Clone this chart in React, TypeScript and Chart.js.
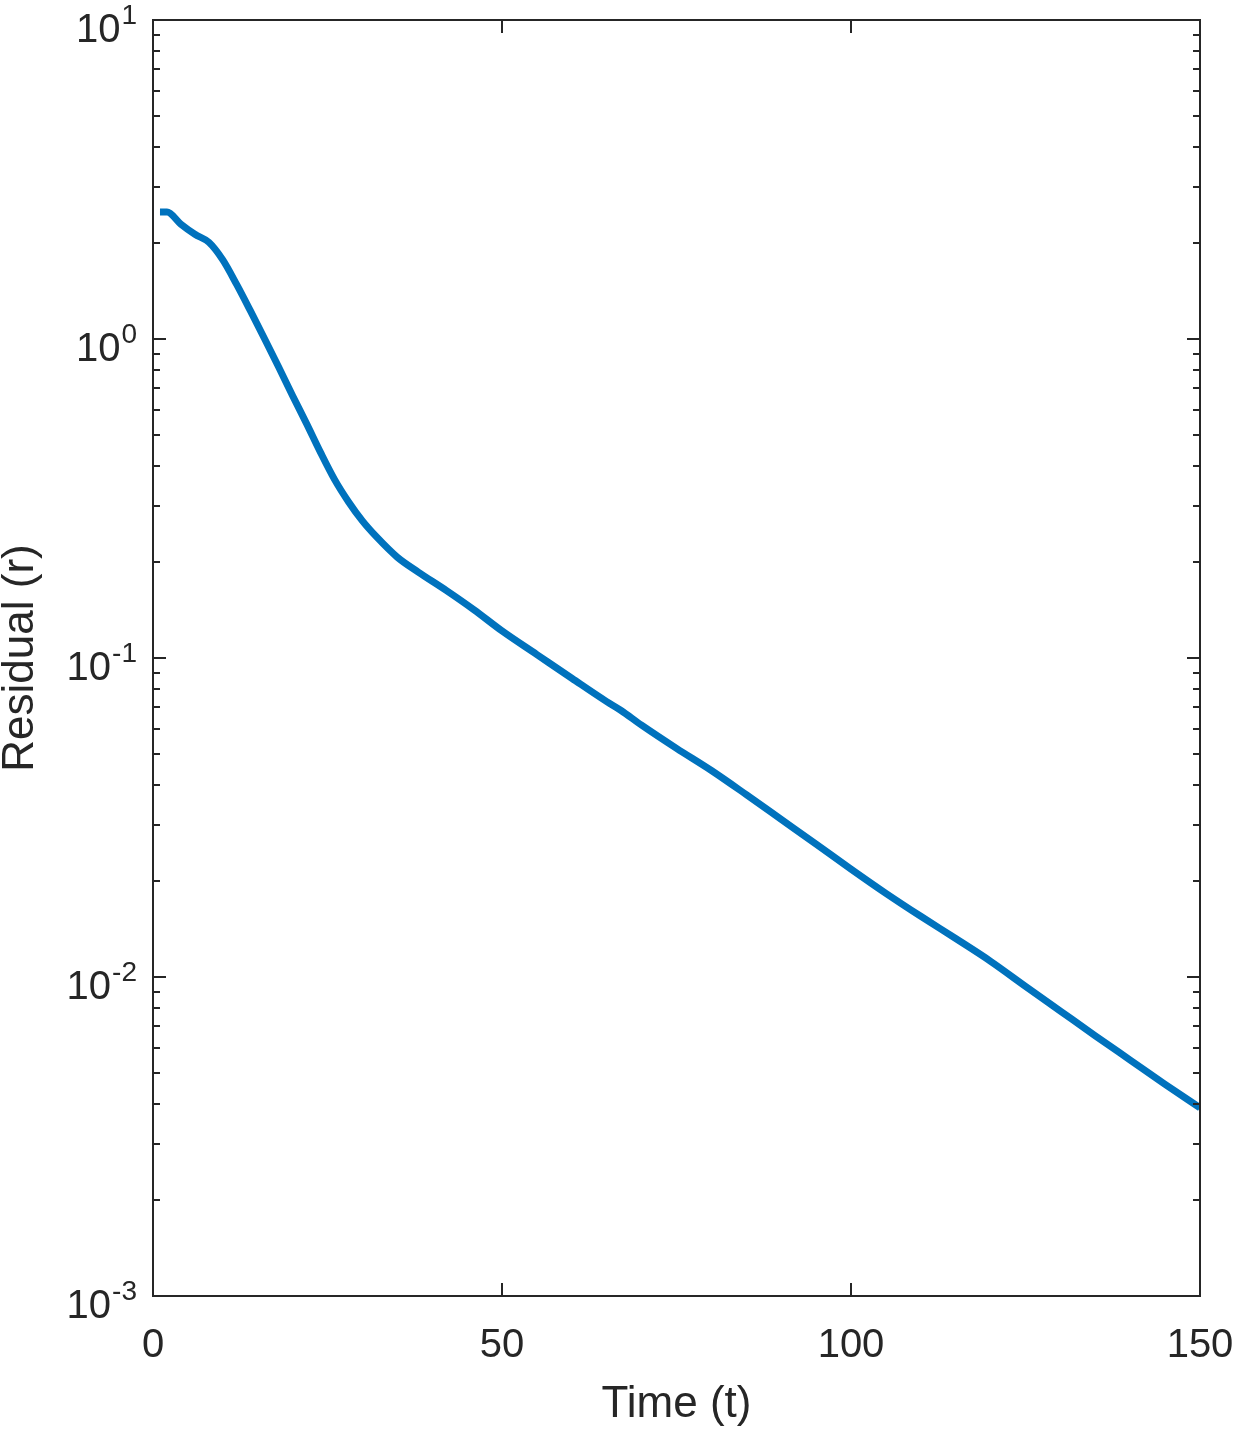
import React, { useEffect, useRef } from "react";
import { Chart, registerables } from "chart.js";

Chart.register(...registerables);

// ---- data ----
const timeValues = [1, 2, 4, 6, 8, 10, 12, 14, 16, 18, 20, 22, 24, 26, 28, 30, 32, 35, 38, 42, 46, 50, 55, 60, 65, 67, 70, 75, 80, 85, 90, 95, 100, 105, 110, 115, 120, 125, 130, 135, 140, 145, 150];
const residualValues = [2.5, 2.5, 2.29, 2.13, 2.01, 1.77, 1.48, 1.22, 1.0, 0.817, 0.664, 0.543, 0.441, 0.363, 0.309, 0.269, 0.24, 0.207, 0.186, 0.163, 0.1416, 0.1216, 0.1025, 0.0864, 0.0730, 0.0686, 0.0616, 0.0521, 0.0444, 0.0373, 0.0312, 0.0261, 0.0218, 0.0183, 0.0155, 0.0132, 0.0112, 0.00935, 0.00782, 0.00654, 0.00549, 0.00461, 0.00389];
const xTickValues = [0, 50, 100, 150];
const xTickLabels = ["0", "50", "100", "150"];
const yDecadeExponents = [-3, -2, -1, 0, 1];
const xAxisTitle = "Time (t)";
const yAxisTitle = "Residual (r)";

const W = 1238;
const H = 1430;
const AXIS_COLOR = "#262626";
const FONT = '"Liberation Sans", Arial, Helvetica, sans-serif';

const axesPlugin = {
  id: "matlabAxes",
  afterDatasetsDraw(chart: any) {
    const ctx = chart.ctx as CanvasRenderingContext2D;
    const { left, right, top, bottom } = chart.chartArea;
    const xs = chart.scales.x;
    const ys = chart.scales.y;
    ctx.save();
    ctx.strokeStyle = AXIS_COLOR;
    ctx.lineWidth = 2;
    // box
    ctx.strokeRect(left, top, right - left, bottom - top);

    const MAJ = 13;
    const MIN = 7;
    ctx.beginPath();
    // x ticks (top and bottom)
    for (const v of xTickValues) {
      const px = Math.round(xs.getPixelForValue(v));
      ctx.moveTo(px, bottom);
      ctx.lineTo(px, bottom - MAJ);
      ctx.moveTo(px, top);
      ctx.lineTo(px, top + MAJ);
    }
    // y ticks (left and right)
    for (const e of yDecadeExponents) {
      const py = Math.round(ys.getPixelForValue(Math.pow(10, e)));
      ctx.moveTo(left, py);
      ctx.lineTo(left + MAJ, py);
      ctx.moveTo(right, py);
      ctx.lineTo(right - MAJ, py);
      if (e < 1) {
        for (let m = 2; m <= 9; m++) {
          const pm = Math.round(ys.getPixelForValue(m * Math.pow(10, e)));
          ctx.moveTo(left, pm);
          ctx.lineTo(left + MIN, pm);
          ctx.moveTo(right, pm);
          ctx.lineTo(right - MIN, pm);
        }
      }
    }
    ctx.stroke();

    // x tick labels
    ctx.fillStyle = AXIS_COLOR;
    ctx.font = `40px ${FONT}`;
    ctx.textAlign = "center";
    ctx.textBaseline = "alphabetic";
    xTickValues.forEach((v, i) => {
      const px = xs.getPixelForValue(v);
      ctx.fillText(xTickLabels[i], px, bottom + 61);
    });

    // y tick labels 10^e
    ctx.textAlign = "left";
    for (const e of yDecadeExponents) {
      const py = ys.getPixelForValue(Math.pow(10, e));
      const base = "10";
      const sup = String(e);
      ctx.font = `40px ${FONT}`;
      const wb = ctx.measureText(base).width;
      ctx.font = `28px ${FONT}`;
      const ws = ctx.measureText(sup).width;
      const x0 = 136 - (wb + ws);
      ctx.font = `40px ${FONT}`;
      ctx.fillText(base, x0, py + 22);
      ctx.font = `28px ${FONT}`;
      ctx.fillText(sup, x0 + wb + 1, py + 4);
    }

    // axis titles
    ctx.font = `44px ${FONT}`;
    ctx.textAlign = "center";
    ctx.fillText(xAxisTitle, (left + right) / 2, 1417);
    ctx.save();
    ctx.translate(33, (top + bottom) / 2);
    ctx.rotate(-Math.PI / 2);
    ctx.fillText(yAxisTitle, 0, 0);
    ctx.restore();

    ctx.restore();
  },
};

export default function App() {
  const canvasRef = useRef<HTMLCanvasElement | null>(null);

  useEffect(() => {
    document.body.style.margin = "0";
    const canvas = canvasRef.current;
    if (!canvas) return;
    const chart = new Chart(canvas, {
      type: "line",
      data: {
        datasets: [
          {
            data: timeValues.map((t, i) => ({ x: t, y: residualValues[i] })),
            borderColor: "#0072BD",
            borderWidth: 7,
            pointRadius: 0,
            fill: false,
            cubicInterpolationMode: "monotone",
          },
        ],
      },
      options: {
        responsive: false,
        animation: false,
        devicePixelRatio: 1,
        layout: { padding: { left: 153, right: 38, top: 20, bottom: 134 } },
        plugins: { legend: { display: false }, tooltip: { enabled: false } },
        scales: {
          x: {
            type: "linear",
            min: 0,
            max: 150,
            grid: { display: false },
            border: { display: false },
            ticks: { display: false },
            afterFit: (s: any) => {
              s.height = 0;
            },
          },
          y: {
            type: "logarithmic",
            min: 0.001,
            max: 10,
            grid: { display: false },
            border: { display: false },
            ticks: { display: false },
            afterFit: (s: any) => {
              s.width = 0;
            },
          },
        },
      },
      plugins: [axesPlugin],
    } as any);
    return () => chart.destroy();
  }, []);

  return (
    <div style={{ position: "absolute", left: 0, top: 0, width: W, height: H, background: "#fff" }}>
      <canvas ref={canvasRef} width={W} height={H} style={{ width: W, height: H, display: "block" }} />
    </div>
  );
}
